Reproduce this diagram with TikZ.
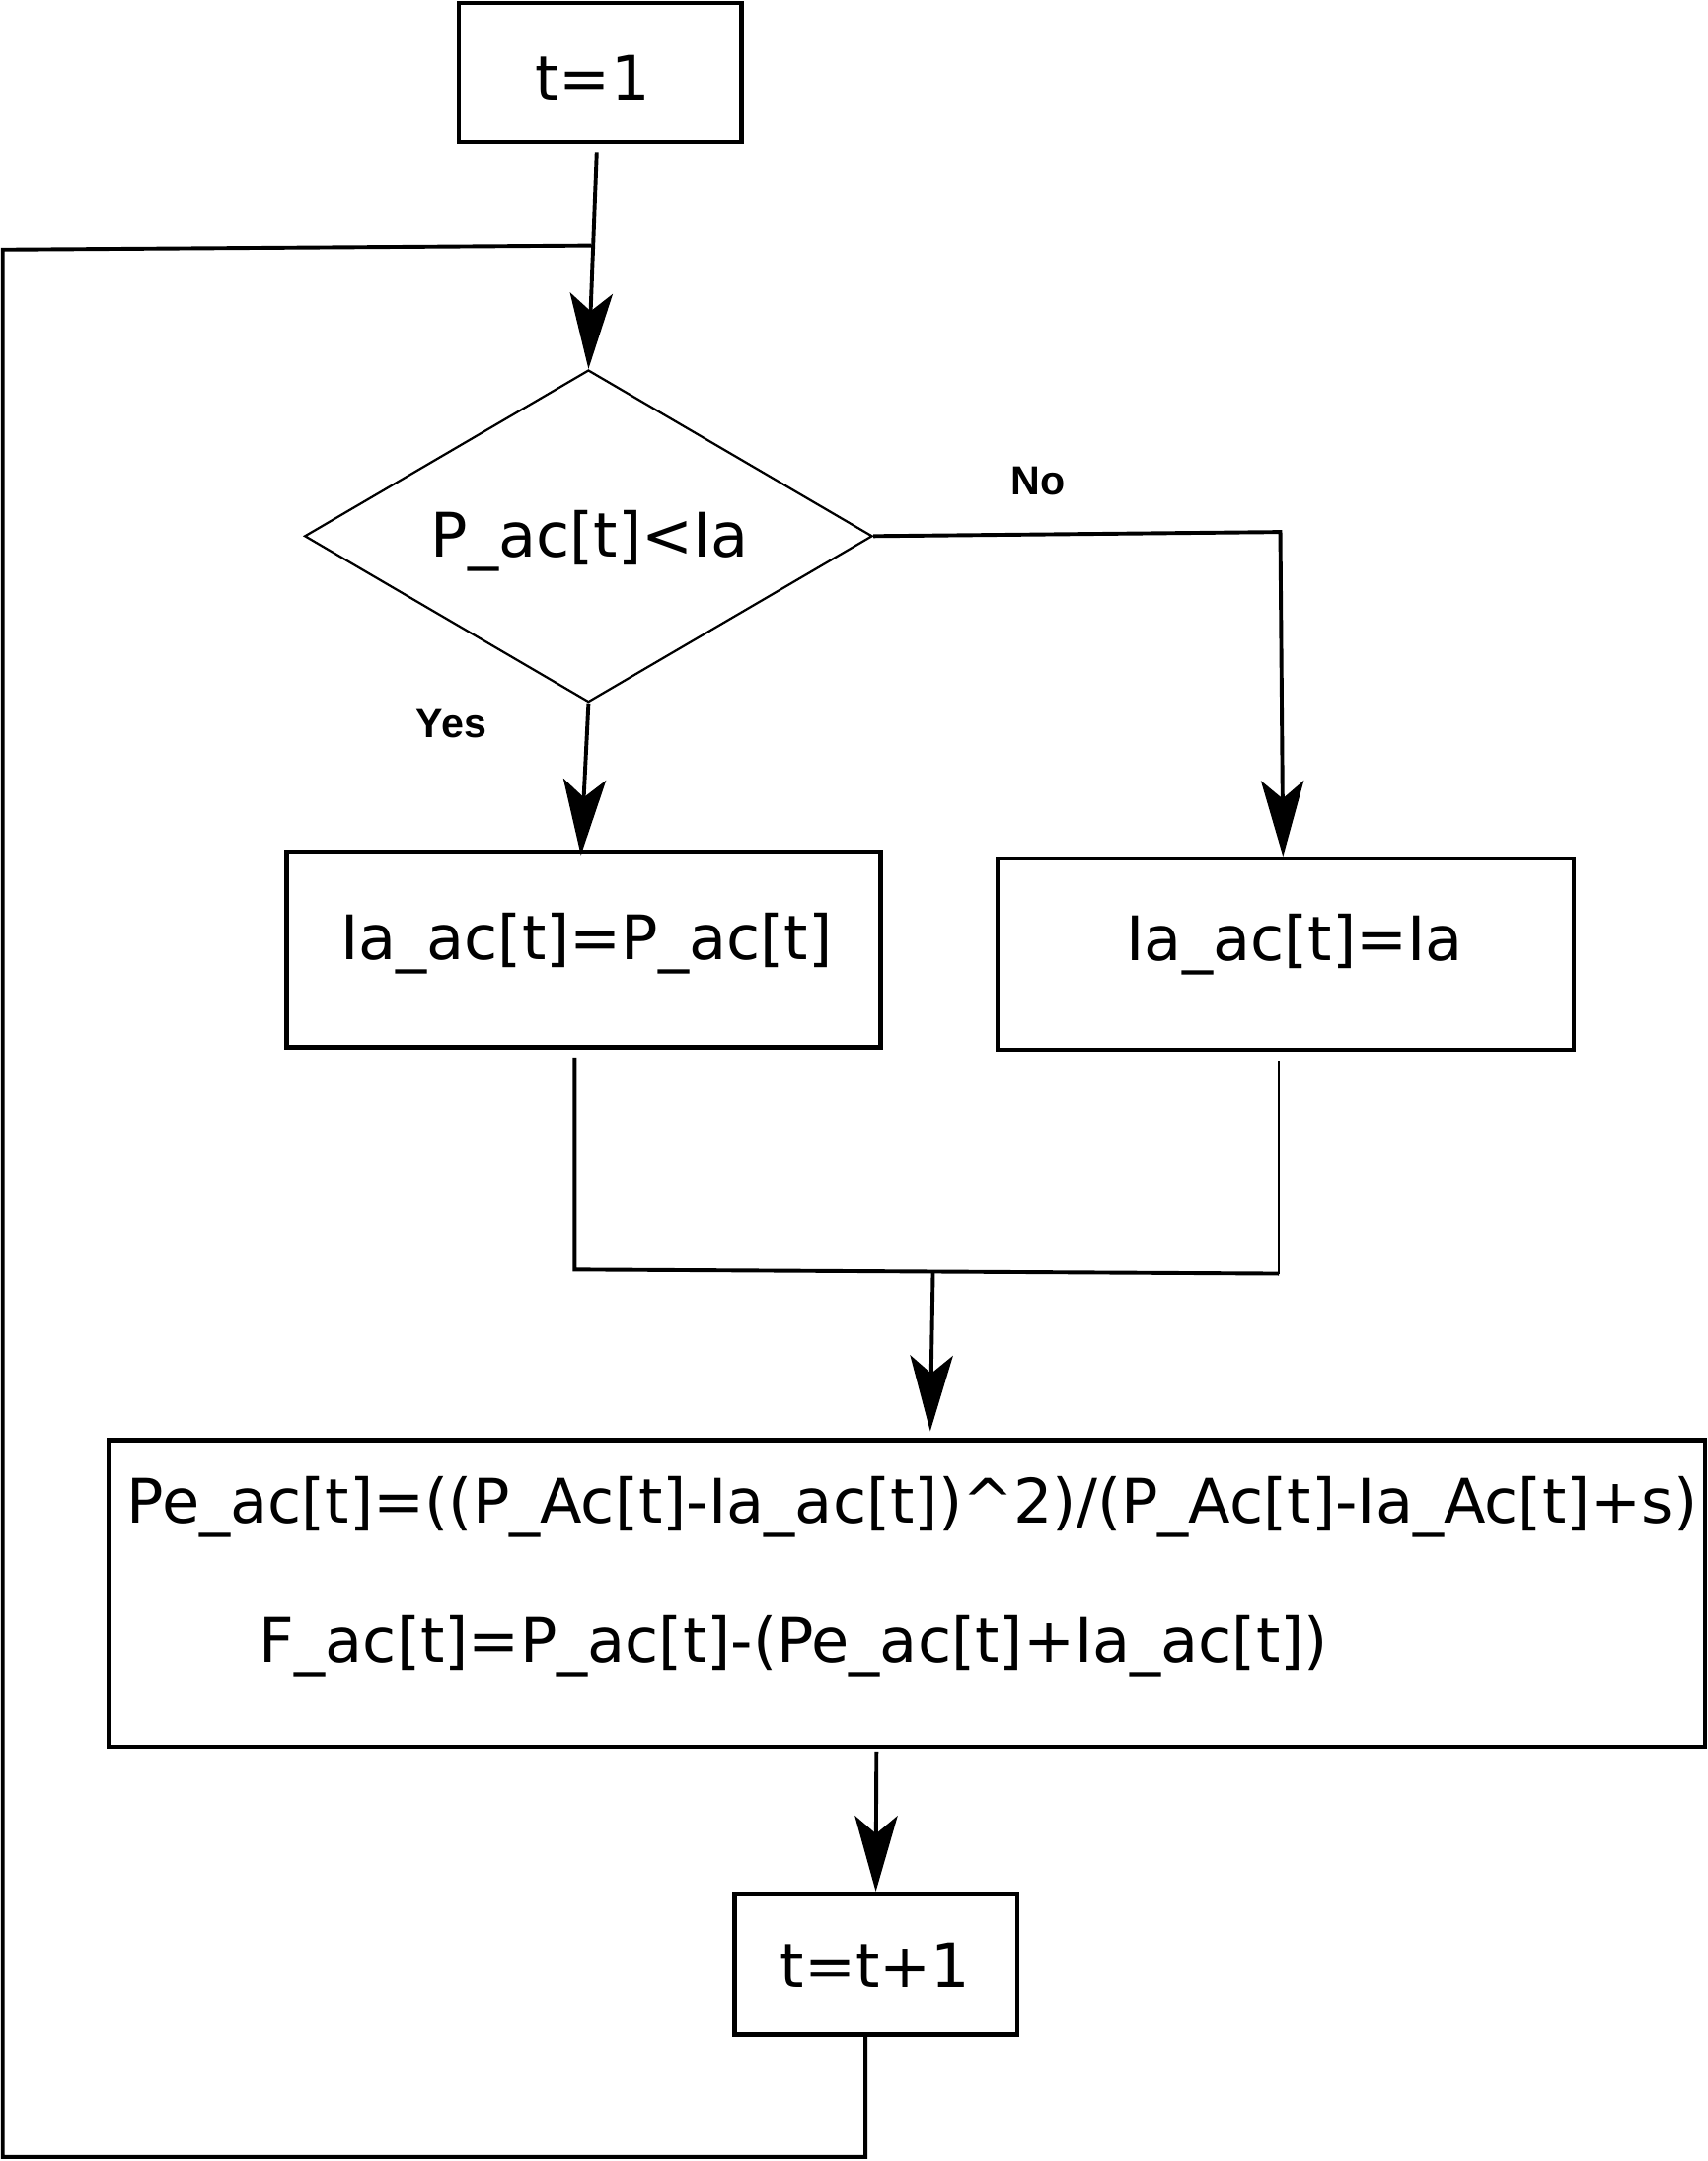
\documentclass[tikz,border=0pt]{standalone}
\usepackage{fontspec}
\setmainfont{DejaVu Sans}
\newfontfamily\labfont{Liberation Sans}
\usetikzlibrary{arrows.meta,shapes.geometric}
\begin{document}
\begin{tikzpicture}[x=1pt,y=-1pt,
  box/.style={draw,line width=3pt,inner sep=0pt},
  dec/.style={draw,diamond,line width=1.6pt,inner sep=0pt},
  txt/.style={font=\fontsize{44.5}{54}\selectfont,anchor=base,inner sep=0pt},
  lab/.style={font=\labfont\bfseries\fontsize{29.5}{35}\selectfont,anchor=base,inner sep=0pt},
  conn/.style={line width=2.8pt},
  arr/.style={conn,-{Stealth[length=55pt,width=31pt,inset=13pt]}}]
\useasboundingbox (0,0) rectangle (1239,1568);
% boxes
\node[box,minimum width=205pt,minimum height=101pt] (t1) at (435.5,52.5) {};
\node[dec,minimum width=412pt,minimum height=241pt] (dia) at (427,389) {};
\node[box,minimum width=431pt,minimum height=142pt] (lbx) at (423.5,689) {};
\node[box,minimum width=418pt,minimum height=139pt] (rbx) at (933,692.5) {};
\node[box,minimum width=1158pt,minimum height=222pt] (big) at (658,1156) {};
\node[box,minimum width=205pt,minimum height=102pt] (tt) at (635.5,1425) {};
% texts
\node[txt] (t1txt) at (430,73) {t=1};
\node[txt] (diatxt) at (428,404) {P\_ac[t]<Ia};
\node[txt] (lbxtxt) at (425.5,696) {Ia\_ac[t]=P\_ac[t]};
\node[txt] (rbxtxt) at (939.5,697) {Ia\_ac[t]=Ia};
\node[txt] (bigtxta) at (662,1105) {Pe\_ac[t]=((P\_Ac[t]-Ia\_ac[t])\^{}2)/(P\_Ac[t]-Ia\_Ac[t]+s)};
\node[txt] (bigtxtb) at (576,1206) {F\_ac[t]=P\_ac[t]-(Pe\_ac[t]+Ia\_ac[t])};
\node[txt] (tttxt) at (635,1442) {t=t+1};
\node[lab] (no) at (753,359) {No};
\node[lab] (yes) at (327.5,535) {Yes};
% coordinates
\coordinate (lt) at (2,181);
\coordinate (lb) at (2,1565);
\coordinate (jn) at (429,178);
\coordinate (nocorner) at (929,386);
\coordinate (m1) at (417,921);
\coordinate (m2) at (928,924);
\coordinate (mid) at (677,922.5);
% connectors
\draw[arr] ([shift={(-2.5,6)}]t1.south) -- (dia.north);
\draw[conn] ([xshift=-7.5]tt.south) |- (lb) -- (lt) -- (jn);
\draw[arr] (dia.east) -- (nocorner) -- ([xshift=-2]rbx.north);
\draw[arr] (dia.south) -- ([xshift=-2,yshift=-4]lbx.north);
\draw[conn] ([shift={(-6.5,6)}]lbx.south) -- (m1) -- (m2);
\draw[line width=1.8pt] (m2) -- ([shift={(-5,6)}]rbx.south);
\draw[arr] (mid) -- ([shift={(17,-5)}]big.north);
\draw[arr] ([shift={(-22,3)}]big.south) -- (tt.north);
\end{tikzpicture}
\end{document}
